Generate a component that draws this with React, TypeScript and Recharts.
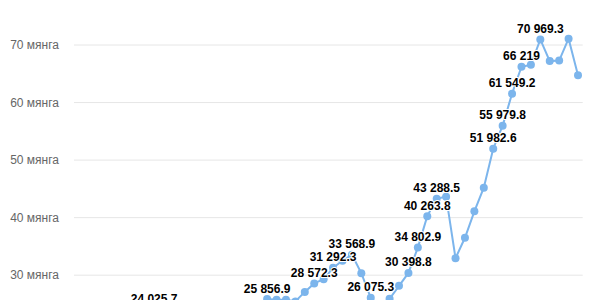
import { LineChart, Line, XAxis, YAxis, CartesianGrid, LabelList } from "recharts";

// 54 periods; the first 20 sit below the visible crop
const periods = Array.from({ length: 54 }, (_, i) => String(i + 1));

const values = [
  17850, 18420, 19310, 20150, 21080, 21960, 22740, 23380, 24025.7, 23310,
  22050, 21470, 21900, 22480, 23050, 23520, 23960, 24180, 24350, 24600,
  25856.9, 25750, 25720, 25450, 27100, 28572.3, 29300, 31292.3, 32500, 33568.9,
  30350, 26075.3, 24400, 25900, 28150, 30398.8, 34802.9, 40263.8, 43288.5, 43650,
  32950, 36500, 41100, 45200, 51982.6, 55979.8, 61549.2, 66219, 66550, 70969.3,
  67200, 67300, 71100, 64750,
];

// indices that carry a data label
const labeled = [8, 20, 25, 27, 29, 31, 35, 36, 37, 38, 44, 45, 46, 47, 49];

// only the ticks that fall inside the crop
const yTicks = [30000, 40000, 50000, 60000, 70000];

const fmt = (v: number) => {
  const [int, dec] = String(v).split(".");
  const spaced = int.replace(/\B(?=(\d{3})+(?!\d))/g, " ");
  return dec ? `${spaced}.${dec}` : spaced;
};

const data = periods.map((p, i) => ({
  period: p,
  value: values[i],
  label: labeled.includes(i) ? fmt(values[i]) : null,
}));

const FONT = "'Liberation Sans', Arial, sans-serif";

const DataLabel = (props: any) => {
  const { x, y, value } = props;
  if (value == null) return null;
  return (
    <text
      x={x}
      y={y - 6.5}
      textAnchor="middle"
      fontFamily={FONT}
      fontSize={12}
      fontWeight="bold"
      fill="#000"
      stroke="#fff"
      strokeWidth={2}
      strokeLinejoin="round"
      paintOrder="stroke"
    >
      {value}
    </text>
  );
};

export default function App() {
  return (
    <div style={{ position: "absolute", left: 0, top: 0, width: 590, height: 300, overflow: "hidden", background: "#fff" }}>
      <div style={{ position: "absolute", left: 0, top: -30 }}>
        <LineChart
          width={590}
          height={518}
          data={data}
          margin={{ top: 17.45, right: 7.3, left: 0, bottom: 40.15 }}
        >
          <CartesianGrid vertical={false} stroke="#e6e6e6" />
          <XAxis dataKey="period" hide padding={{ left: 4.7, right: 4.7 }} />
          <YAxis
            width={74}
            domain={[0, 80000]}
            ticks={yTicks}
            axisLine={false}
            tickLine={false}
            tickSize={0}
            tickMargin={15}
            tick={{ fontSize: 12, fill: "#666", fontFamily: FONT }}
            tickFormatter={(v: number) => `${v / 1000} мянга`}
          />
          <Line
            type="linear"
            dataKey="value"
            stroke="#7cb5ec"
            strokeWidth={2}
            dot={{ r: 4, fill: "#7cb5ec", stroke: "none" }}
            activeDot={false}
            isAnimationActive={false}
          >
            <LabelList dataKey="label" content={DataLabel} />
          </Line>
        </LineChart>
      </div>
    </div>
  );
}
